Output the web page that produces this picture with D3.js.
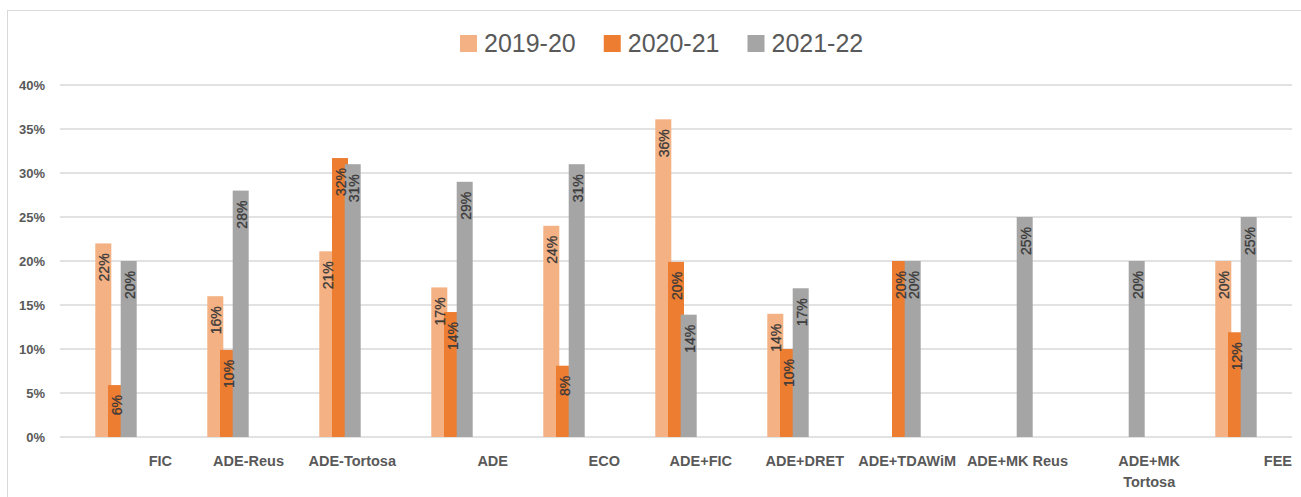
<!DOCTYPE html>
<html>
<head>
<meta charset="utf-8">
<script src="https://cdn.jsdelivr.net/npm/d3@7"></script>
<style>
  body { margin: 0; background: #fff; }
  svg { display: block; font-family: "Liberation Sans", Arial, sans-serif; }
</style>
</head>
<body>
<div id="chart"></div>
<script>
var categories = ["FIC", "ADE-Reus", "ADE-Tortosa", "ADE", "ECO", "ADE+FIC", "ADE+DRET", "ADE+TDAWiM", "ADE+MK Reus", "ADE+MK|Tortosa", "FEE"];
var seriesNames = ["2019-20", "2020-21", "2021-22"];
var colors = ["#F4B183", "#ED7D31", "#A5A5A5"];
var v2019 = [22, 16, 21.1, 17, 24, 36.1, 14, null, null, null, 20];
var v2020 = [5.9, 9.9, 31.7, 14.2, 8.1, 19.9, 10, 20, null, null, 11.9];
var v2021 = [20, 28, 31, 29, 31, 13.9, 16.9, 20, 25, 20, 25];
var yTicks = [0, 5, 10, 15, 20, 25, 30, 35, 40];

var width = 1301, height = 497;
var plotLeft = 60, plotRight = 1292, plotTop = 85, plotBottom = 437;

var svg = d3.select("#chart").append("svg").attr("width", width).attr("height", height);

// chart frame (cropped on right/bottom like the screenshot)
svg.append("rect").attr("x", 7.5).attr("y", 10.5).attr("width", 1310).attr("height", 500)
    .attr("fill", "none").attr("stroke", "#D9D9D9").attr("stroke-width", 1);

var x = d3.scaleBand().domain(categories).range([plotLeft, plotRight]);
var y = d3.scaleLinear().domain([0, 40]).range([plotBottom, plotTop]);

// gridlines
svg.selectAll("line.grid")
    .data(yTicks)
    .enter().append("line")
    .attr("class", "grid")
    .attr("x1", plotLeft).attr("x2", plotRight)
    .attr("y1", function(d) { return y(d); })
    .attr("y2", function(d) { return y(d); })
    .attr("stroke", "#D9D9D9").attr("stroke-width", 1.5);

// y axis labels
svg.selectAll("text.ytick")
    .data(yTicks)
    .enter().append("text")
    .attr("class", "ytick")
    .attr("x", 45)
    .attr("y", function(d) { return y(d); })
    .attr("dy", "0.36em")
    .attr("text-anchor", "end")
    .attr("font-size", "13px").attr("font-weight", "bold").attr("fill", "#595959")
    .text(function(d) { return d + "%"; });

// bars: width 16, step 12.7 (overlapping like the original)
var barW = 16, step = 12.7;
var allSeries = [v2019, v2020, v2021];
var labels = [];
allSeries.forEach(function(vals, s) {
  var data = categories.map(function(c, i) { return {cat: c, value: vals[i], s: s}; })
      .filter(function(d) { return d.value != null; });
  svg.selectAll("rect.s" + s)
      .data(data)
      .enter().append("rect")
      .attr("class", "s" + s)
      .attr("x", function(d) { return x(d.cat) + x.bandwidth() / 2 + (s - 1) * step - barW / 2; })
      .attr("y", function(d) { return y(d.value); })
      .attr("width", barW)
      .attr("height", function(d) { return plotBottom - y(d.value); })
      .attr("fill", colors[s]);
  labels = labels.concat(data);
});

// data labels, rotated, inside end
svg.selectAll("text.dlabel")
    .data(labels)
    .enter().append("text")
    .attr("class", "dlabel")
    .attr("transform", function(d) {
      var cx = x(d.cat) + x.bandwidth() / 2 + (d.s - 1) * step + 1;
      return "translate(" + cx + "," + (y(d.value) + 10) + ") rotate(-90)";
    })
    .attr("dy", "0.36em")
    .attr("text-anchor", "end")
    .attr("font-size", "14px").attr("fill", "#3a3a3a")
    .attr("stroke", "#3a3a3a").attr("stroke-width", 0.3)
    .text(function(d) { return Math.round(d.value) + "%"; });

// category labels (right aligned at band end)
var catText = svg.selectAll("text.cat")
    .data(categories)
    .enter().append("text")
    .attr("class", "cat")
    .attr("font-size", "14.5px").attr("font-weight", "bold").attr("fill", "#595959");

catText.each(function(d) {
  var t = d3.select(this);
  var parts = d.split("|");
  var xEnd = x(d) + x.bandwidth();
  var first = t.append("tspan").attr("x", xEnd).attr("y", 466).attr("text-anchor", "end").text(parts[0]);
  if (parts.length > 1) {
    var w = first.node().getComputedTextLength();
    t.append("tspan").attr("x", xEnd - w / 2).attr("y", 487).attr("text-anchor", "middle").text(parts[1]);
  }
});

// legend
var legend = svg.append("g").attr("transform", "translate(460,0)");
var lx = 0;
seriesNames.forEach(function(name, i) {
  var g = legend.append("g").attr("transform", "translate(" + lx + ",0)");
  g.append("rect").attr("x", 0).attr("y", 35).attr("width", 17).attr("height", 17).attr("fill", colors[i]);
  var t = g.append("text").attr("x", 24).attr("y", 52)
      .attr("font-size", "25px").attr("fill", "#595959").text(name);
  lx += 24 + t.node().getComputedTextLength() + 28;
});
</script>
</body>
</html>
